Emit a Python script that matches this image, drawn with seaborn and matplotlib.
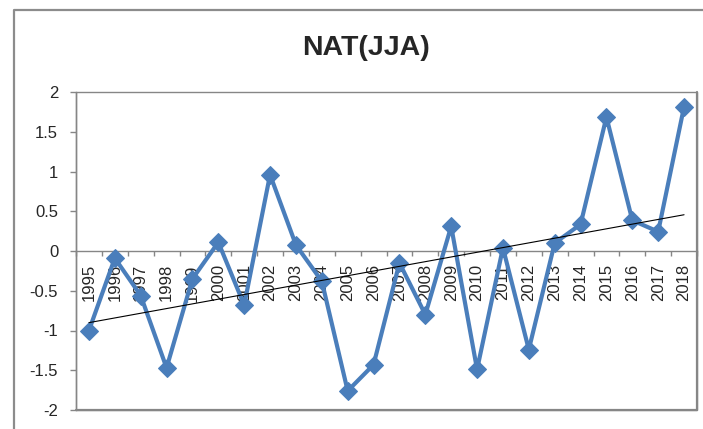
import numpy as np
import pandas as pd
import matplotlib
matplotlib.use('Agg')
import matplotlib.pyplot as plt
from matplotlib.lines import Line2D
from matplotlib.patches import Rectangle
from matplotlib.ticker import FixedLocator, FuncFormatter
import seaborn as sns

# 데이터
years = ['1995', '1996', '1997', '1998', '1999', '2000', '2001', '2002',
         '2003', '2004', '2005', '2006', '2007', '2008', '2009', '2010',
         '2011', '2012', '2013', '2014', '2015', '2016', '2017', '2018']
nat_jja = [-1.00, -0.09, -0.56, -1.47, -0.35, 0.11, -0.68, 0.96,
           0.075, -0.38, -1.76, -1.43, -0.15, -0.80, 0.31, -1.49,
           0.04, -1.24, 0.10, 0.335, 1.685, 0.386, 0.243, 1.815]
title = 'NAT(JJA)'

df = pd.DataFrame({'idx': np.arange(len(years)), 'year': years, 'val': nat_jja})

sns.set_style('white')
plt.rcParams['font.family'] = ['Liberation Sans', 'DejaVu Sans']
plt.rcParams['axes.unicode_minus'] = False

grey = '#868686'
blue = '#4a7ebb'

fig = plt.figure(figsize=(7.03, 4.29), dpi=100)
ax = fig.add_axes([76 / 703, 19 / 429, 621 / 703, 318 / 429])

# 꺾은선 + 다이아몬드 마커
sns.lineplot(data=df, x='idx', y='val', ax=ax, color=blue, linewidth=3.0,
             marker='D', markersize=9.5, markeredgecolor=blue, zorder=3)

# 추세선
sns.regplot(data=df, x='idx', y='val', ax=ax, scatter=False, ci=None,
            truncate=True, color='black', line_kws={'linewidth': 0.8, 'zorder': 4})

ax.set_xlim(-0.5, len(years) - 0.5)
ax.set_ylim(-2, 2)
ax.set_xlabel('')
ax.set_ylabel('')

# 축 스타일 (엑셀 느낌)
for side in ['top', 'right']:
    ax.spines[side].set_visible(False)
ax.spines['left'].set_color(grey)
ax.spines['left'].set_linewidth(1.0)
ax.spines['bottom'].set_position(('data', 0))
ax.spines['bottom'].set_color(grey)
ax.spines['bottom'].set_linewidth(1.0)

# 그림 영역 테두리
ax.add_patch(Rectangle((0, 0), 1, 1, transform=ax.transAxes, fill=False,
                       edgecolor=grey, linewidth=1.0, clip_on=False, zorder=1))
ax.add_line(Line2D([1, 1, 0], [1, 0, 0], transform=ax.transAxes, color=grey,
                   linewidth=1.6, clip_on=False, zorder=1))

# y 눈금
ax.set_yticks(np.arange(-2, 2.01, 0.5))
ax.yaxis.set_major_formatter(FuncFormatter(lambda v, p: '%g' % v))
ax.tick_params(axis='y', which='major', direction='out', length=4.3, width=1,
               color=grey, pad=8.5, labelsize=12, left=True)

# x 눈금: 경계에 눈금선, 가운데에 연도 라벨
ax.xaxis.set_major_locator(FixedLocator(np.arange(-0.5, len(years), 1.0)))
ax.xaxis.set_minor_locator(FixedLocator(df['idx']))
ax.set_xticklabels([], minor=False)
ax.set_xticklabels(years, minor=True, rotation=90)
ax.tick_params(axis='x', which='major', direction='out', length=3.6, width=1,
               color=grey, bottom=True)
ax.tick_params(axis='x', which='minor', length=0, pad=9.5, labelsize=12, bottom=True)

# 제목
fig.text(366 / 703, 1 - 48 / 429, title, ha='center', va='center',
         fontsize=20.5, fontweight='bold',
         family=['Liberation Sans Narrow', 'Liberation Sans', 'DejaVu Sans'])

# 차트 영역 테두리
fig.add_artist(Line2D([14 / 703, 14 / 703, 1.0], [0.0, 1 - 10 / 429, 1 - 10 / 429],
                      transform=fig.transFigure, color='#8c8c8c', linewidth=1.6))

fig.savefig('out.png', dpi=100)
